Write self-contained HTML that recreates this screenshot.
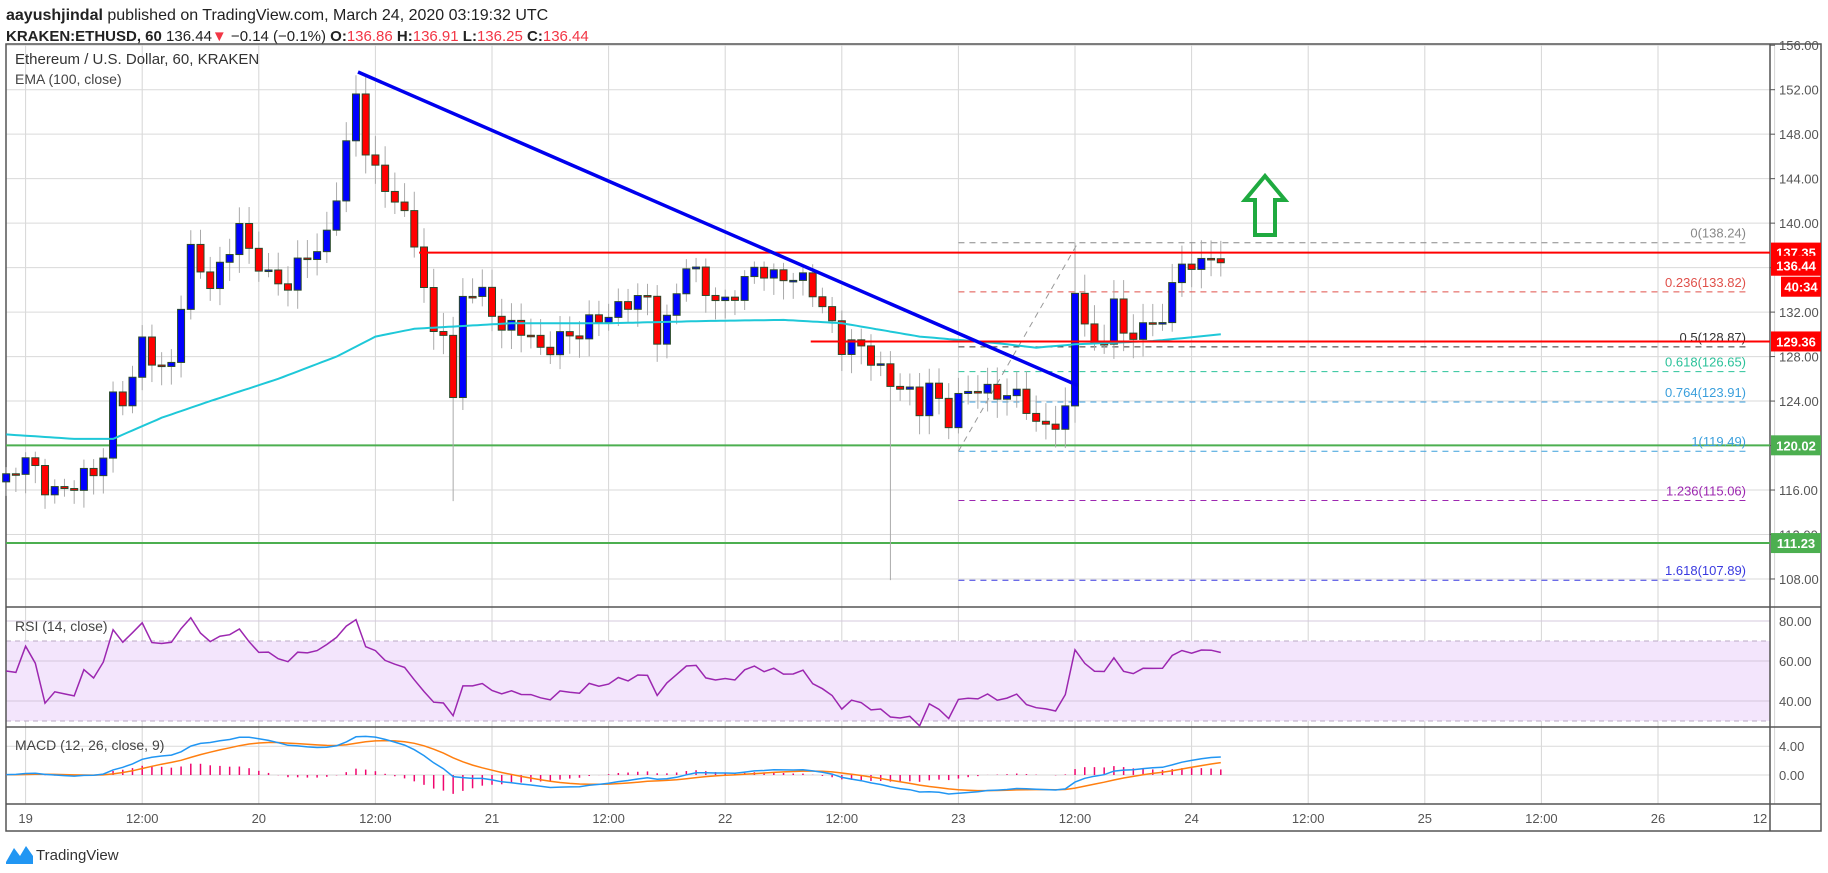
<!DOCTYPE html>
<html><head><meta charset="utf-8"><style>
body{margin:0;background:#fff;width:1828px;height:868px;overflow:hidden;font-family:"Liberation Sans",sans-serif}
</style></head><body>
<svg id="s" width="1828" height="868" xmlns="http://www.w3.org/2000/svg" font-family="Liberation Sans, sans-serif"></svg>
<script>
const S=document.getElementById('s');let o='';
const X=h=>25.6+h*9.717, Y=p=>89.7+(152-p)*11.12;
const L=6,R=1770,T=44,B=607;
o+=`<text x="6" y="20" font-size="16" fill="#222"><tspan font-weight="bold">aayushjindal</tspan> published on TradingView.com, March 24, 2020 03:19:32 UTC</text>`;
o+=`<text x="6" y="41" font-size="15" fill="#222"><tspan font-weight="bold">KRAKEN:ETHUSD, 60</tspan> 136.44<tspan fill="#f23645">▼</tspan> −0.14 (−0.1%) <tspan font-weight="bold">O:</tspan><tspan fill="#f23645">136.86</tspan> <tspan font-weight="bold">H:</tspan><tspan fill="#f23645">136.91</tspan> <tspan font-weight="bold">L:</tspan><tspan fill="#f23645">136.25</tspan> <tspan font-weight="bold">C:</tspan><tspan fill="#f23645">136.44</tspan></text>`;
for(let k=0;k<=15;k++){const x=25.6+k*116.6;o+=`<line x1="${x}" y1="${T}" x2="${x}" y2="804" stroke="#d6d6d6"/>`;}
for(let p=108;p<=156;p+=4){o+=`<line x1="${L}" y1="${Y(p)}" x2="${R}" y2="${Y(p)}" stroke="#dadada"/>`;}
const RY=r=>621+(80-r)*2;
o+=`<rect x="${L}" y="${RY(70)}" width="${R-L}" height="${RY(30)-RY(70)}" fill="#f3e5fc"/>`;
[80,60,40].forEach(r=>o+=`<line x1="${L}" y1="${RY(r)}" x2="${R}" y2="${RY(r)}" stroke="#d4c8dc"/>`);
[70,30].forEach(r=>o+=`<line x1="${L}" y1="${RY(r)}" x2="${R}" y2="${RY(r)}" stroke="#bbaac4" stroke-dasharray="5,4"/>`);
const MY=v=>775-v*7.2;
[4,0].forEach(v=>o+=`<line x1="${L}" y1="${MY(v)}" x2="${R}" y2="${MY(v)}" stroke="#dadada"/>`);
o+=`<rect x="${L}" y="${T}" width="1815" height="787" fill="none" stroke="#555" stroke-width="1.5"/>`;
[607,727,804].forEach(y=>o+=`<line x1="${L}" y1="${y}" x2="1821" y2="${y}" stroke="#555" stroke-width="1.5"/>`);
o+=`<line x1="${R}" y1="${T}" x2="${R}" y2="831" stroke="#555" stroke-width="1.5"/>`;
for(let p=108;p<=156;p+=4){o+=`<line x1="${R}" y1="${Y(p)}" x2="${R+5}" y2="${Y(p)}" stroke="#555"/><text x="1779" y="${Y(p)+5}" font-size="13" fill="#555">${p.toFixed(2)}</text>`;}
[80,60,40].forEach(r=>o+=`<text x="1779" y="${RY(r)+5}" font-size="13" fill="#555">${r.toFixed(2)}</text>`);
[4,0].forEach(v=>o+=`<text x="1779" y="${MY(v)+5}" font-size="13" fill="#555">${v.toFixed(2)}</text>`);
const tl=['19','12:00','20','12:00','21','12:00','22','12:00','23','12:00','24','12:00','25','12:00','26'];
tl.forEach((t,k)=>{const x=25.6+k*116.6;o+=`<text x="${x}" y="823" font-size="13" fill="#555" text-anchor="middle">${t}</text>`;});
o+=`<text x="1760" y="823" font-size="13" fill="#555" text-anchor="middle">12</text>`;
const K=[[-3,117],[-2,117],[0,118.5],[2,116.5],[4.5,116],[7,117.5],[8,119.5],[9,124.5],[10.5,124],[12,129],[14,127],[15.4,128],[16.3,135],[17,137],[19,134.5],[21,138],[22,139.5],[23,137],[25,135.5],[27,134.5],[28.5,136.5],[30.7,138],[32,143],[33,147],[34,151],[35,146.5],[36.4,144],[38,142.5],[40,138],[42,130],[43,131],[44,124],[45,133],[46.6,134],[49,131],[51.4,130],[53,128.5],[55,130],[56.8,129.5],[58.6,131.5],[61,132.5],[64,133],[65.2,129.5],[66.4,132.5],[68,136],[70,134],[71.8,133],[73.6,134],[75.4,136],[77.2,135.5],[79,135],[80.8,134],[82.6,132],[84,129],[86,128.5],[88,127],[89,126],[90.4,125],[92,123],[93.4,126.5],[94.6,122],[96,124],[98,125],[100.6,125],[102.4,124],[104.2,121.5],[106,122.5],[107,123],[108,133.5],[109,131],[110,128.5],[111,130],[112,133.5],[113,129.5],[114.4,130],[116,131],[117.4,132.5],[118.8,136.5],[120.4,135.5],[122,136.8],[123,136.44]];
function interp(A,h){for(let i=0;i<A.length-1;i++){if(h>=A[i][0]&&h<=A[i+1][0]){const t=(h-A[i][0])/(A[i+1][0]-A[i][0]);return A[i][1]+t*(A[i+1][1]-A[i][1]);}}return A[A.length-1][1];}
let C=[];for(let i=0;i<60;i++)C.push(117+Math.sin(i*0.7)*0.6);
let hs=[];for(let h=-2;h<=123;h++){hs.push(h);C.push(interp(K,h)+(h<122?Math.sin(h*2.3)*0.7+Math.cos(h*1.1)*0.4:0));}
const off=60;
const E=[[-2,121],[5,120.6],[9,120.6],[14,122.5],[19,124],[26,126],[32,128],[36,129.8],[40,130.5],[50,131],[60,131],[70,131.2],[78,131.3],[84,131],[92,129.8],[100,129.2],[104,128.8],[108,129.1],[116,129.4],[123,130]];
let ep='';for(let h=-2;h<=123;h+=0.5)ep+=(ep?'L':'M')+X(h).toFixed(1)+','+Y(interp(E,h)).toFixed(1);
o+=`<line x1="${L}" y1="${Y(120.02)}" x2="${R}" y2="${Y(120.02)}" stroke="#4caf50" stroke-width="2"/>`;
o+=`<line x1="${L}" y1="${Y(111.23)}" x2="${R}" y2="${Y(111.23)}" stroke="#4caf50" stroke-width="2"/>`;
const fx1=X(96),fx2=1748;
[[138.24,'0(138.24)','#888'],[133.82,'0.236(133.82)','#e0504a'],[128.87,'0.5(128.87)','#333'],[126.65,'0.618(126.65)','#2bc29a'],[123.91,'0.764(123.91)','#3a9fdc'],[119.49,'1(119.49)','#3a9fdc'],[115.06,'1.236(115.06)','#9c27b0'],[107.89,'1.618(107.89)','#3a3ae0']].forEach(([p,t,c])=>{
o+=`<line x1="${fx1}" y1="${Y(p)}" x2="${fx2}" y2="${Y(p)}" stroke="${c}" stroke-dasharray="6,5"/><text x="1746" y="${Y(p)-5}" font-size="13" fill="${c}" text-anchor="end">${t}</text>`;});
o+=`<line x1="${X(96)}" y1="${Y(119.49)}" x2="${X(108.3)}" y2="${Y(138.24)}" stroke="#999" stroke-dasharray="6,5"/>`;
for(let i=0;i<hs.length;i++){const h=hs[i],c=C[off+i],op=C[off+i-1];
 let hi=Math.max(c,op)+0.5+Math.abs(Math.sin(h*3.1))*1.2,lo=Math.min(c,op)-0.5-Math.abs(Math.cos(h*2.7))*1.2;
 if(h==44)lo=115;if(h==89)lo=107.9;if(h==108)hi=138.24;if(h==120)hi=138.2;
 const x=X(h),up=c>=op;
 o+=`<line x1="${x}" y1="${Y(hi)}" x2="${x}" y2="${Y(lo)}" stroke="#aaa"/>`;
 const y1=Y(Math.max(c,op)),y2=Y(Math.min(c,op));
 o+=`<rect x="${x-3.5}" y="${y1}" width="7" height="${Math.max(1.5,y2-y1)}" fill="${up?'#0000ff':'#ff0000'}" stroke="#2a4a2a" stroke-width="1"/>`;}
o+=`<path d="${ep}" fill="none" stroke="#1ec8d8" stroke-width="2"/>`;
o+=`<line x1="${X(40.5)}" y1="${Y(137.35)}" x2="${R}" y2="${Y(137.35)}" stroke="#ff0000" stroke-width="2"/>`;
o+=`<line x1="${X(80.8)}" y1="${Y(129.36)}" x2="${R}" y2="${Y(129.36)}" stroke="#ff0000" stroke-width="2"/>`;
o+=`<line x1="358" y1="72" x2="${X(108.3)}" y2="${Y(125.4)}" stroke="#0000ee" stroke-width="3.5"/>`;
const ax=1265;o+=`<path d="M${ax},176 L${ax+20},200 L${ax+10},200 L${ax+10},235 L${ax-10},235 L${ax-10},200 L${ax-20},200 Z" fill="none" stroke="#1faa40" stroke-width="4" stroke-linejoin="miter"/>`;
function tag(y,t,c,x=1771,w=50){o+=`<rect x="${x}" y="${y-10}" width="${w}" height="20" fill="${c}"/><text x="${x+w/2}" y="${y+5}" font-size="13" fill="#fff" text-anchor="middle" font-weight="bold">${t}</text>`;}
tag(Y(137.35),'137.35','#ff0000');tag(Y(136.44)+3,'136.44','#ff0000');tag(Y(136.44)+24,'40:34','#ff0000',1781,40);
tag(Y(129.36),'129.36','#ff0000');tag(Y(120.02),'120.02','#4caf50');tag(Y(111.23),'111.23','#4caf50');
let g=0,l=0,rp='';const n=14;
for(let i=1;i<C.length;i++){const d=C[i]-C[i-1];const u=Math.max(d,0),dn=Math.max(-d,0);
 if(i<=n){g+=u/n;l+=dn/n;}else{g=(g*(n-1)+u)/n;l=(l*(n-1)+dn)/n;}
 if(i>=off){const r=100-100/(1+g/(l||1e-6));rp+=(rp?'L':'M')+X(hs[i-off]).toFixed(1)+','+RY(Math.max(22,Math.min(85,r))).toFixed(1);}}
o+=`<path d="${rp}" fill="none" stroke="#9c27b0" stroke-width="1.5"/>`;
let e12=C[0],e26=C[0],sg=0,mp='',spth='';const a12=2/13,a26=2/27,a9=2/10;
for(let i=0;i<C.length;i++){e12+=a12*(C[i]-e12);e26+=a26*(C[i]-e26);const m=e12-e26;sg+=a9*(m-sg);
 if(i>=off){const x=X(hs[i-off]);mp+=(mp?'L':'M')+x.toFixed(1)+','+MY(m).toFixed(1);spth+=(spth?'L':'M')+x.toFixed(1)+','+MY(sg).toFixed(1);
 o+=`<line x1="${x}" y1="${MY(0)}" x2="${x}" y2="${MY(m-sg)}" stroke="#f0066e" stroke-width="1.5"/>`;}}
o+=`<path d="${spth}" fill="none" stroke="#ff7f10" stroke-width="1.5"/><path d="${mp}" fill="none" stroke="#2196f3" stroke-width="1.5"/>`;
o+=`<text x="15" y="64" font-size="15" fill="#333">Ethereum / U.S. Dollar, 60, KRAKEN</text><text x="15" y="84" font-size="14" fill="#444">EMA (100, close)</text>`;
o+=`<text x="15" y="631" font-size="14" fill="#444">RSI (14, close)</text><text x="15" y="750" font-size="14" fill="#444">MACD (12, 26, close, 9)</text>`;
o+=`<path d="M6,862 L14,848 L20,856 L26,846 L33,856 L33,864 L6,864 Z" fill="#2196f3"/><text x="36" y="860" font-size="15" fill="#333">TradingView</text>`;
S.innerHTML=o;
</script>
</body></html>
